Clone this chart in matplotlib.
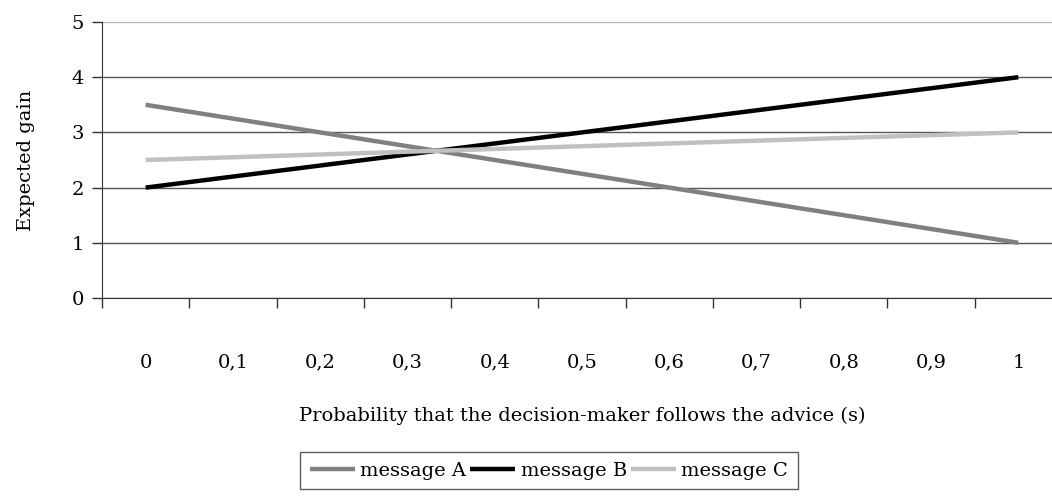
import matplotlib
matplotlib.use("Agg")
import matplotlib.pyplot as plt
from matplotlib.ticker import FixedLocator, NullFormatter

# Data: expected gain by probability of following the advice
categories = ["0", "0,1", "0,2", "0,3", "0,4", "0,5", "0,6", "0,7", "0,8", "0,9", "1"]
message_a = [3.5, 3.25, 3.0, 2.75, 2.5, 2.25, 2.0, 1.75, 1.5, 1.25, 1.0]
message_b = [2.0, 2.2, 2.4, 2.6, 2.8, 3.0, 3.2, 3.4, 3.6, 3.8, 4.0]
message_c = [2.5, 2.55, 2.6, 2.65, 2.7, 2.75, 2.8, 2.85, 2.9, 2.95, 3.0]
y_ticks = [0, 1, 2, 3, 4, 5]

plt.rcParams["font.family"] = ["DejaVu Serif"]
FS = 14

fig = plt.figure(figsize=(10.52, 5.0), dpi=100)
ax = fig.add_axes([102 / 1052, 1 - 298 / 500, 960 / 1052, (298 - 22) / 500])

x = list(range(len(categories)))
ax.plot(x, message_a, color="#808080", lw=3.2, label="message A", solid_capstyle="butt")
ax.plot(x, message_b, color="#000000", lw=3.2, label="message B", solid_capstyle="butt")
ax.plot(x, message_c, color="#c0c0c0", lw=3.2, label="message C", solid_capstyle="butt")

ax.set_xlim(-0.5, len(categories) - 0.5)
ax.set_ylim(0, 5)
ax.set_yticks(y_ticks)
ax.set_yticklabels([str(v) for v in y_ticks], fontsize=FS)
ax.yaxis.grid(True, color="#555555", lw=1)
ax.get_ygridlines()[-1].set_color("#bbbbbb")
ax.set_axisbelow(True)

ax.set_xticks(x)
ax.set_xticklabels(categories, fontsize=FS)
ax.tick_params(axis="x", which="major", length=0, pad=40)
ax.xaxis.set_minor_locator(FixedLocator([i - 0.5 for i in range(len(categories) + 1)]))
ax.xaxis.set_minor_formatter(NullFormatter())
ax.tick_params(axis="x", which="minor", length=7, width=1, color="#333333")
ax.tick_params(axis="y", length=7, width=1, color="#333333", pad=6)

for side in ("top", "right"):
    ax.spines[side].set_visible(False)
ax.spines["left"].set_color("#333333")
ax.spines["bottom"].set_color("#333333")

ax.set_ylabel("Expected gain", fontsize=FS, labelpad=26)
ax.set_xlabel("Probability that the decision-maker follows the advice (s)", fontsize=FS, labelpad=25)

leg = fig.legend(loc="upper center", bbox_to_anchor=(549 / 1052, 1 - 452 / 500), ncol=3,
                 fontsize=FS, frameon=True, fancybox=False, edgecolor="#333333",
                 handlelength=2.3, handletextpad=0.3, columnspacing=0.2,
                 borderpad=0.5, borderaxespad=0)
leg.get_frame().set_linewidth(1)

fig.savefig("out.png", dpi=100)
